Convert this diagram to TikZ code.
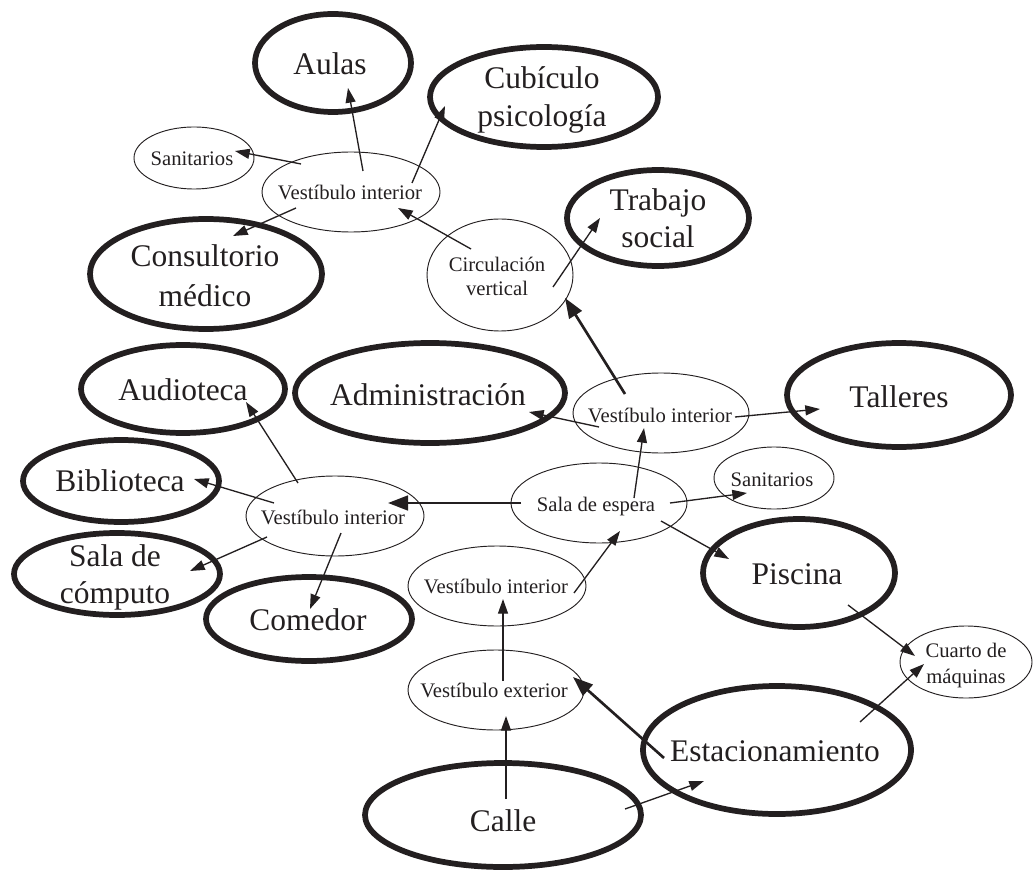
\documentclass[tikz,border=0pt]{standalone}
\usepackage{fontspec}
\setmainfont{Liberation Serif}
\usetikzlibrary{shapes.geometric,arrows.meta,calc}
\definecolor{ink}{RGB}{35,31,32}
\begin{document}
\begin{tikzpicture}[x=0.75pt,y=-0.75pt,
  room/.style={ellipse, draw=ink, line width=4.3pt, inner sep=0pt},
  hall/.style={ellipse, draw=ink, line width=0.7pt, inner sep=0pt},
  radii/.style 2 args={minimum width=1.5*#1pt, minimum height=1.5*#2pt},
  big/.style={text=ink, anchor=base, inner sep=0pt, font=\fontsize{23.6}{28}\selectfont},
  small/.style={text=ink, anchor=base, inner sep=0pt, font=\fontsize{15.5}{18}\selectfont},
  link/.style={draw=ink, line width=1pt, -{Triangle[length=11pt,width=7.5pt]}},
  mainlink/.style={draw=ink, line width=2pt, -{Triangle[length=15pt,width=11pt]}},
]
\useasboundingbox (0,0) rectangle (1034,873);

% ---- spaces (thick) and circulation areas (thin) ----
\node[room, radii={78}{49}]   (aulas)  at (333,63)  {};
\node[room, radii={114}{50}]  (cub)    at (544,97)  {};
\node[hall, radii={60}{31}]   (sanT)   at (194,158) {};
\node[hall, radii={89}{40}]   (viT)    at (351,192) {};
\node[room, radii={116}{55}]  (cons)   at (206,274) {};
\node[hall, radii={73}{56}]   (circ)   at (500,275) {};
\node[room, radii={91}{48}]   (trab)   at (658,218) {};
\node[room, radii={102}{44}]  (aud)    at (183,389) {};
\node[room, radii={135}{50}]  (adm)    at (430,393) {};
\node[hall, radii={88}{40}]   (viR)    at (661,413) {};
\node[room, radii={112}{52}]  (tall)   at (899,395) {};
\node[room, radii={98}{41}]   (bib)    at (121,481) {};
\node[hall, radii={89}{40}]   (viL)    at (335,516) {};
\node[hall, radii={88}{40}]   (sala)   at (599,503) {};
\node[hall, radii={60}{31}]   (sanR)   at (774,478) {};
\node[room, radii={103}{41}]  (comp)   at (117,574) {};
\node[room, radii={103}{42}]  (com)    at (309,619) {};
\node[hall, radii={89}{40}]   (viB)    at (497,586) {};
\node[room, radii={96}{54}]   (pisc)   at (799,573) {};
\node[hall, radii={66}{36}]   (cuarto) at (966,662) {};
\node[hall, radii={88}{40}]   (vext)   at (496,690) {};
\node[room, radii={134}{64}]  (est)    at (777,750) {};
\node[room, radii={138}{52}]  (calle)  at (503,815) {};

% ---- labels ----
\node[big]   (aulas-t)  at (330,75)  {Aulas};
\node[big]   (cub-t1)   at (542,89)  {Cubículo};
\node[big]   (cub-t2)   at (542,127) {psicología};
\node[small] (sanT-t)   at (192,166) {Sanitarios};
\node[small] (viT-t)    at (350,200) {Vestíbulo interior};
\node[big]   (cons-t1)  at (205,267) {Consultorio};
\node[big]   (cons-t2)  at (205,306) {médico};
\node[small] (circ-t1)  at (497,272) {Circulación};
\node[small] (circ-t2)  at (497,296) {vertical};
\node[big]   (trab-t1)  at (658,211) {Trabajo};
\node[big]   (trab-t2)  at (658,248) {social};
\node[big]   (aud-t)    at (183,400) {Audioteca};
\node[big]   (adm-t)    at (428,405) {Administración};
\node[big]   (tall-t)   at (899,407) {Talleres};
\node[small] (viR-t)    at (660,422) {Vestíbulo interior};
\node[big]   (bib-t)    at (120,491) {Biblioteca};
\node[small] (viL-t)    at (333,524) {Vestíbulo interior};
\node[small] (sala-t)   at (596,511) {Sala de espera};
\node[small] (sanR-t)   at (772,486) {Sanitarios};
\node[big]   (comp-t1)  at (115,566) {Sala de};
\node[big]   (comp-t2)  at (115,603) {cómputo};
\node[big]   (com-t)    at (308,630) {Comedor};
\node[small] (viB-t)    at (496,593) {Vestíbulo interior};
\node[big]   (pisc-t)   at (797,584) {Piscina};
\node[small] (cuarto-t1) at (966,657) {Cuarto de};
\node[small] (cuarto-t2) at (966,683) {máquinas};
\node[small] (vext-t)   at (494,697) {Vestíbulo exterior};
\node[big]   (est-t)    at (775,761) {Estacionamiento};
\node[big]   (calle-t)  at (503,831) {Calle};

% ---- connections ----
\draw[link] ($(viT)+(12,-21)$) -- ($(aulas)+(15,25)$);
\draw[link] ($(viT)+(61,-9)$) -- ($(cub)+(-99,9)$);
\draw[link] ($(viT)+(-50,-28)$) -- ($(sanT)+(41,-7)$);
\draw[link] ($(viT)+(-55,16)$) -- ($(cons)+(27,-38)$);
\draw[link] ($(circ)+(-29,-26)$) -- ($(viT)+(47,16)$);
\draw[link] ($(circ)+(53,12)$) -- ($(trab)+(-58,0)$);
\draw[mainlink] ($(viR)+(-36,-19)$) -- ($(circ)+(65,23)$);
\draw[link] ($(viR)+(74,4)$) -- ($(tall)+(-79,14)$);
\draw[link] ($(viR)+(-62,14)$) -- ($(adm)+(99,19)$);
\draw[link] ($(sala)+(35,-5)$) -- ($(viR)+(-17,15)$);
\draw[link] ($(viL)+(-37,-33)$) -- ($(aud)+(63,13)$);
\draw[link] ($(viL)+(-61,-13)$) -- ($(bib)+(73,-2)$);
\draw[link] ($(viL)+(-68,21)$) -- ($(comp)+(73,-3)$);
\draw[link] ($(viL)+(6,17)$) -- ($(com)+(1,-10)$);
\draw[mainlink] ($(sala)+(-78,0)$) -- ($(viL)+(53,-13)$);
\draw[link] ($(vext)+(7,-9)$) -- ($(viB)+(6,13)$);
\draw[link] ($(calle)+(3,-16)$) -- ($(vext)+(10,26)$);
\draw[link] ($(sala)+(71,0)$) -- ($(sanR)+(-27,15)$);
\draw[link] ($(sala)+(62,18)$) -- ($(pisc)+(-70,-14)$);
\draw[link] ($(viB)+(77,7)$) -- ($(sala)+(21,28)$);
\draw[link] ($(pisc)+(49,32)$) -- ($(cuarto)+(-51,-6)$);
\draw[mainlink] ($(est)+(-113,8)$) -- ($(vext)+(77,-13)$);
\draw[link] ($(calle)+(122,-6)$) -- ($(est)+(-73,31)$);
\draw[link] ($(est)+(83,-28)$) -- ($(cuarto)+(-42,2)$);
\end{tikzpicture}
\end{document}
